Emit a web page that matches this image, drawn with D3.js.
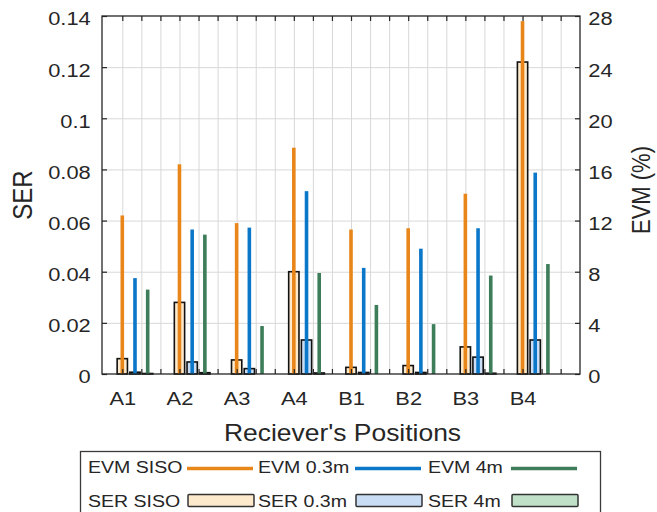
<!DOCTYPE html>
<html lang="en">
<head>
<meta charset="UTF-8" />
<title>SER and EVM per receiver position</title>
<script src="https://cdnjs.cloudflare.com/ajax/libs/d3/7.8.5/d3.min.js"></script>
<style>
  body { margin: 0; background: #fff; }
  svg { display: block; }
  text { font-family: 'Liberation Sans', Arial, sans-serif; fill: #262626; }
  .grid line { stroke: #d8d8d8; stroke-width: 1; }
  .grid path { stroke-width: 0; }
  .ticks line { stroke: #262626; stroke-width: 1.2; }
  .ticks path { stroke-width: 0; }
</style>
</head>
<body>
<svg width="657" height="512"></svg>
<script>
// receiver positions on the x axis
const positions = ['A1', 'A2', 'A3', 'A4', 'B1', 'B2', 'B3', 'B4'];

// EVM (%), right axis
const evmSiso = [12.4, 16.4, 11.8, 17.7, 11.3, 11.4, 14.1, 27.6];
const evm03 = [7.5, 11.3, 11.45, 14.3, 8.3, 9.8, 11.4, 15.75];
const evm4 = [6.6, 10.9, 3.75, 7.9, 5.4, 3.9, 7.7, 8.6];

// SER, left axis
const serSiso = [0.006, 0.028, 0.0055, 0.040, 0.0026, 0.0033, 0.0106, 0.122];
const ser03 = [0.0007, 0.0047, 0.0021, 0.0133, 0.0006, 0.0006, 0.0066, 0.0133];
const ser4 = [0.0002, 0.0005, 0, 0.0004, 0, 0, 0.0003, 0];

// tick labels
const serTicks = [0, 0.02, 0.04, 0.06, 0.08, 0.1, 0.12, 0.14];
const serTickLabels = ['0', '0.02', '0.04', '0.06', '0.08', '0.1', '0.12', '0.14'];
const evmTicks = [0, 4, 8, 12, 16, 20, 24, 28];
const evmTickLabels = ['0', '4', '8', '12', '16', '20', '24', '28'];

const colors = { siso: '#e8861a', m03: '#0b77c8', m4: '#3d7d5a' };
const fills = { siso: '#fde9cc', m03: '#c9ddf4', m4: '#c0e0c8' };

const stretch = 1.15; // text in the picture is a bit wider than tall
const plotL = 102, plotR = 580, plotT = 16, plotB = 374;

const svg = d3.select('svg');

const x = d3.scaleLinear().domain([0.645, 9.005]).range([plotL, plotR]);
const ySer = d3.scaleLinear().domain([0, 0.14]).range([plotB, plotT]);
const yEvm = d3.scaleLinear().domain([0, 28]).range([plotB, plotT]);

const xGrid = d3.range(24).map(k => 1 + k / 3);

// grid
svg.append('g')
  .attr('class', 'grid')
  .attr('transform', `translate(0, ${plotB})`)
  .call(d3.axisBottom(x).tickValues(xGrid).tickSize(-(plotB - plotT)).tickFormat(''));

svg.append('g')
  .attr('class', 'grid')
  .attr('transform', `translate(${plotL}, 0)`)
  .call(d3.axisLeft(ySer).tickValues(serTicks.slice(1, -1)).tickSize(-(plotR - plotL)).tickFormat(''));

// SER bars
const serSeries = [
  { values: serSiso, off: 0, fill: fills.siso },
  { values: ser03, off: 0.222, fill: fills.m03 },
  { values: ser4, off: 0.444, fill: fills.m4 }
];
const bw = x(0.18) - x(0);

serSeries.forEach(s => {
  svg.append('g')
    .selectAll('rect')
    .data(s.values)
    .enter()
    .append('rect')
    .attr('x', (d, i) => x(i + 1 + s.off) - bw / 2)
    .attr('y', d => ySer(d))
    .attr('width', bw)
    .attr('height', d => plotB - ySer(d))
    .attr('fill', s.fill)
    .attr('stroke', d => d > 0 ? '#111' : 'none')
    .attr('stroke-width', 1.6);
});

// EVM lines
const evmSeries = [
  { values: evmSiso, off: 0, color: colors.siso },
  { values: evm03, off: 0.222, color: colors.m03 },
  { values: evm4, off: 0.444, color: colors.m4 }
];
const lw = 3.6;

evmSeries.forEach(s => {
  svg.append('g')
    .selectAll('rect')
    .data(s.values)
    .enter()
    .append('rect')
    .attr('x', (d, i) => x(i + 1 + s.off) - lw / 2)
    .attr('y', d => yEvm(d))
    .attr('width', lw)
    .attr('height', d => plotB - yEvm(d))
    .attr('fill', s.color);
});

// inward tick marks on all four sides
svg.append('g').attr('class', 'ticks')
  .attr('transform', `translate(0, ${plotB})`)
  .call(d3.axisBottom(x).tickValues(xGrid).tickSize(-5).tickFormat(''));
svg.append('g').attr('class', 'ticks')
  .attr('transform', `translate(0, ${plotT})`)
  .call(d3.axisTop(x).tickValues(xGrid).tickSize(-5).tickFormat(''));

const leftAxis = svg.append('g').attr('class', 'ticks')
  .attr('transform', `translate(${plotL}, 0)`)
  .call(d3.axisLeft(ySer).tickValues(serTicks).tickSize(-5)
    .tickFormat((d, i) => serTickLabels[i]));
leftAxis.selectAll('text')
  .attr('x', 0)
  .attr('dy', '0.47em')
  .attr('transform', `translate(-11.3, 0) scale(${stretch}, 1)`)
  .style('font-size', '19px');

const rightAxis = svg.append('g').attr('class', 'ticks')
  .attr('transform', `translate(${plotR}, 0)`)
  .call(d3.axisRight(yEvm).tickValues(evmTicks).tickSize(-5)
    .tickFormat((d, i) => evmTickLabels[i]));
rightAxis.selectAll('text')
  .attr('x', 0)
  .attr('dy', '0.47em')
  .attr('transform', `translate(8.3, 0) scale(${stretch}, 1)`)
  .style('font-size', '19px');

const bottomAxis = svg.append('g').attr('class', 'ticks')
  .attr('transform', `translate(0, ${plotB})`)
  .call(d3.axisBottom(x).tickValues(d3.range(1, 9)).tickSize(0)
    .tickFormat(d => positions[d - 1]));
bottomAxis.selectAll('text')
  .attr('y', 0)
  .attr('dy', 0)
  .attr('transform', `translate(0, 31) scale(${stretch}, 1)`)
  .style('font-size', '19px');

// plot frame
svg.append('rect')
  .attr('x', plotL)
  .attr('y', plotT)
  .attr('width', plotR - plotL)
  .attr('height', plotB - plotT)
  .attr('fill', 'none')
  .attr('stroke', '#262626')
  .attr('stroke-width', 1.3);

// axis labels
svg.append('text')
  .attr('transform', `translate(32, 195) scale(${stretch}, 1) rotate(-90)`)
  .attr('text-anchor', 'middle')
  .style('font-size', '24px')
  .text('SER');

svg.append('text')
  .attr('transform', `translate(650, 190) scale(${stretch}, 1) rotate(-90)`)
  .attr('text-anchor', 'middle')
  .style('font-size', '22px')
  .text('EVM (%)');

svg.append('text')
  .attr('transform', `translate(342.5, 441) scale(${stretch}, 1)`)
  .attr('text-anchor', 'middle')
  .style('font-size', '23px')
  .text("Reciever's Positions");

// legend
const legend = svg.append('g');
legend.append('rect')
  .attr('x', 80.5)
  .attr('y', 451.5)
  .attr('width', 520)
  .attr('height', 80)
  .attr('fill', '#fff')
  .attr('stroke', '#3a3a3a')
  .attr('stroke-width', 1.3);

const legendText = [88, 258, 428];
const legendIcon = [187, 355, 511];
const iconW = 66;

const lineItems = [
  { label: 'EVM SISO', color: colors.siso },
  { label: 'EVM 0.3m', color: colors.m03 },
  { label: 'EVM 4m', color: colors.m4 }
];
const patchItems = [
  { label: 'SER SISO', fill: fills.siso },
  { label: 'SER 0.3m', fill: fills.m03 },
  { label: 'SER 4m', fill: fills.m4 }
];

lineItems.forEach((it, i) => {
  legend.append('text')
    .attr('transform', `translate(${legendText[i]}, 473) scale(${stretch}, 1)`)
    .style('font-size', '17px')
    .text(it.label);
  legend.append('line')
    .attr('x1', legendIcon[i])
    .attr('x2', legendIcon[i] + iconW)
    .attr('y1', 468.5)
    .attr('y2', 468.5)
    .attr('stroke', it.color)
    .attr('stroke-width', 3.5);
});

patchItems.forEach((it, i) => {
  legend.append('text')
    .attr('transform', `translate(${legendText[i]}, 507) scale(${stretch}, 1)`)
    .style('font-size', '17px')
    .text(it.label);
  legend.append('rect')
    .attr('x', legendIcon[i] + 1)
    .attr('y', 494.5)
    .attr('width', iconW)
    .attr('height', 12)
    .attr('rx', 1)
    .attr('fill', it.fill)
    .attr('stroke', '#333')
    .attr('stroke-width', 1.5);
});
</script>
</body>
</html>
